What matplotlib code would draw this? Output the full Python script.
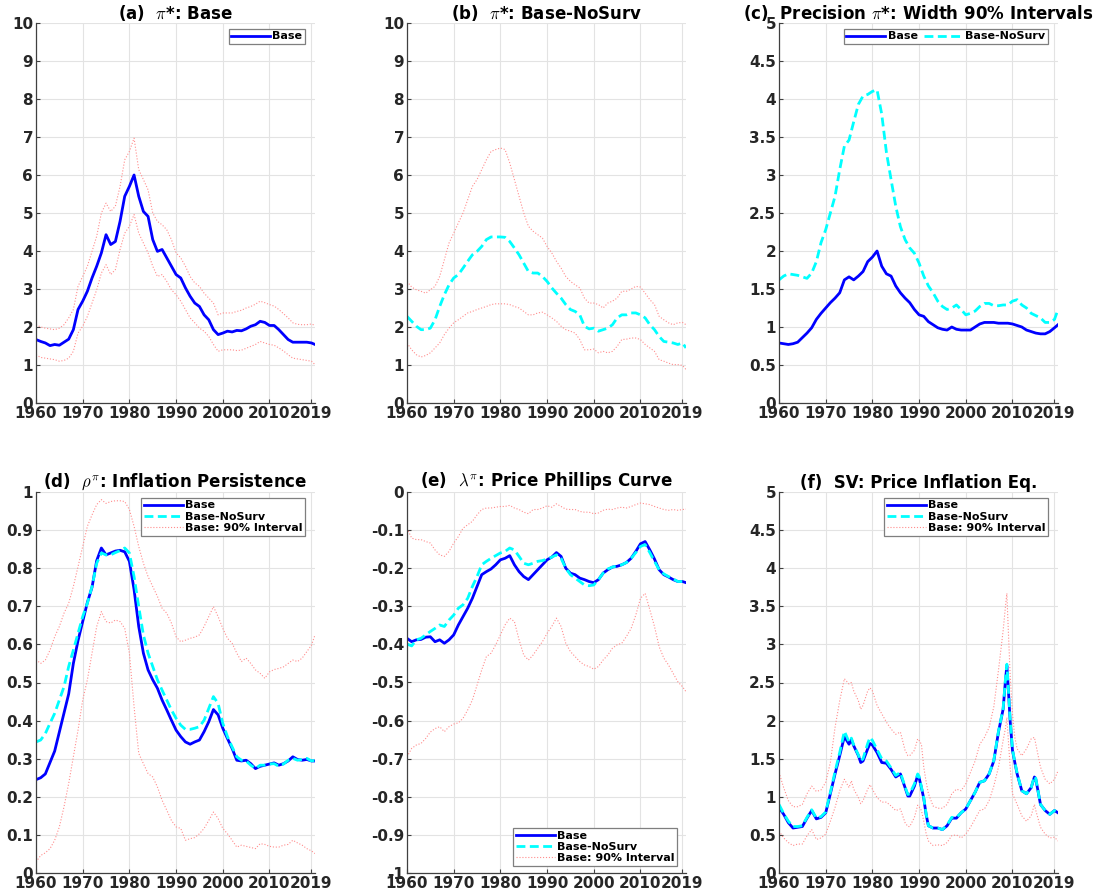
import matplotlib
matplotlib.use("Agg")
import matplotlib.pyplot as plt

plt.rcParams["font.family"] = ["DejaVu Sans"]
plt.rcParams["font.weight"] = "bold"
plt.rcParams["mathtext.fontset"] = "cm"

# ---------------------------------------------------------------- data
YEARS = list(range(1960, 2020)) + [2019.75]

A_BASE = [1.67, 1.62, 1.58, 1.51, 1.54, 1.52, 1.60, 1.68, 1.93, 2.46,
          2.68, 2.94, 3.29, 3.60, 3.95, 4.43, 4.17, 4.25, 4.78, 5.44,
          5.70, 6.00, 5.44, 5.04, 4.91, 4.30, 3.99, 4.04, 3.82, 3.60,
          3.38, 3.29, 3.03, 2.81, 2.63, 2.54, 2.32, 2.19, 1.93, 1.80,
          1.84, 1.89, 1.87, 1.91, 1.90, 1.95, 2.02, 2.06, 2.15, 2.12,
          2.04, 2.04, 1.93, 1.80, 1.67, 1.60, 1.60, 1.60, 1.60, 1.58,
          1.54]
A_UP = [2.06, 2.00, 1.97, 1.95, 1.93, 1.97, 2.06, 2.24, 2.46, 3.07,
        3.33, 3.60, 3.99, 4.39, 5.00, 5.26, 5.04, 5.18, 5.70, 6.40,
        6.62, 6.97, 6.14, 5.88, 5.61, 5.00, 4.78, 4.69, 4.56, 4.30,
        3.95, 3.82, 3.60, 3.33, 3.16, 3.07, 2.89, 2.76, 2.63, 2.32,
        2.37, 2.37, 2.37, 2.41, 2.44, 2.50, 2.54, 2.60, 2.68, 2.64,
        2.59, 2.55, 2.46, 2.35, 2.24, 2.11, 2.07, 2.06, 2.06, 2.08,
        2.04]
A_LO = [1.27, 1.20, 1.18, 1.16, 1.14, 1.10, 1.12, 1.18, 1.36, 1.84,
        2.02, 2.28, 2.63, 2.98, 3.42, 3.64, 3.38, 3.51, 4.04, 4.47,
        4.65, 4.96, 4.47, 4.21, 3.95, 3.60, 3.33, 3.38, 3.20, 2.98,
        2.85, 2.68, 2.46, 2.24, 2.11, 1.97, 1.89, 1.75, 1.54, 1.36,
        1.40, 1.40, 1.40, 1.38, 1.39, 1.44, 1.49, 1.54, 1.62, 1.58,
        1.54, 1.52, 1.45, 1.37, 1.27, 1.18, 1.16, 1.14, 1.12, 1.10,
        1.01]

B_NOSURV = [2.28, 2.15, 2.02, 1.93, 1.93, 1.97, 2.19, 2.54, 2.85, 3.11,
            3.29, 3.38, 3.55, 3.73, 3.90, 3.99, 4.12, 4.30, 4.37, 4.37,
            4.37, 4.36, 4.25, 4.08, 3.90, 3.68, 3.46, 3.42, 3.42, 3.33,
            3.20, 3.03, 2.89, 2.76, 2.59, 2.46, 2.41, 2.32, 2.02, 1.95,
            1.97, 1.89, 1.93, 1.97, 2.06, 2.24, 2.32, 2.32, 2.37, 2.37,
            2.32, 2.24, 2.06, 1.93, 1.75, 1.62, 1.60, 1.58, 1.54, 1.58,
            1.45]
B_UP = [3.20, 3.05, 2.98, 2.94, 2.89, 2.98, 3.07, 3.33, 3.77, 4.21,
        4.47, 4.74, 5.00, 5.35, 5.70, 5.88, 6.14, 6.40, 6.62, 6.67,
        6.71, 6.67, 6.32, 5.88, 5.44, 5.00, 4.65, 4.52, 4.43, 4.34,
        4.12, 3.95, 3.73, 3.55, 3.33, 3.20, 3.11, 3.03, 2.76, 2.63,
        2.63, 2.59, 2.50, 2.63, 2.68, 2.76, 2.94, 2.94, 3.00, 3.07,
        3.05, 2.89, 2.72, 2.59, 2.28, 2.19, 2.11, 2.06, 2.11, 2.12,
        2.06]
B_LO = [1.58, 1.40, 1.27, 1.21, 1.25, 1.32, 1.45, 1.58, 1.80, 1.97,
        2.11, 2.19, 2.28, 2.37, 2.41, 2.46, 2.50, 2.54, 2.59, 2.61,
        2.61, 2.61, 2.59, 2.54, 2.50, 2.41, 2.32, 2.32, 2.37, 2.39,
        2.32, 2.24, 2.15, 2.02, 1.93, 1.89, 1.84, 1.67, 1.40, 1.40,
        1.42, 1.32, 1.36, 1.32, 1.36, 1.49, 1.67, 1.68, 1.71, 1.71,
        1.67, 1.54, 1.45, 1.36, 1.14, 1.10, 1.05, 1.01, 1.01, 0.99,
        0.88]

C_BASE = [0.79, 0.78, 0.77, 0.78, 0.80, 0.86, 0.92, 0.99, 1.10, 1.18,
          1.25, 1.32, 1.38, 1.45, 1.62, 1.66, 1.62, 1.67, 1.73, 1.86,
          1.92, 2.00, 1.80, 1.70, 1.67, 1.54, 1.45, 1.38, 1.32, 1.23,
          1.16, 1.14, 1.07, 1.03, 0.99, 0.97, 0.96, 1.00, 0.97, 0.96,
          0.96, 0.96, 1.00, 1.04, 1.06, 1.06, 1.06, 1.05, 1.05, 1.05,
          1.04, 1.02, 1.00, 0.96, 0.94, 0.92, 0.91, 0.91, 0.94, 0.99,
          1.03]
C_NOSURV = [1.62, 1.67, 1.70, 1.69, 1.68, 1.66, 1.64, 1.71, 1.86, 2.11,
            2.28, 2.50, 2.72, 3.07, 3.38, 3.46, 3.70, 3.93, 4.04, 4.06,
            4.10, 4.12, 3.80, 3.30, 2.94, 2.59, 2.32, 2.15, 2.04, 1.97,
            1.84, 1.67, 1.54, 1.45, 1.34, 1.27, 1.23, 1.25, 1.29, 1.23,
            1.16, 1.18, 1.21, 1.27, 1.31, 1.31, 1.28, 1.28, 1.29, 1.29,
            1.34, 1.36, 1.29, 1.25, 1.18, 1.15, 1.12, 1.06, 1.06, 1.10,
            1.23]

D_BASE = [0.245, 0.250, 0.260, 0.290, 0.320, 0.370, 0.420, 0.470, 0.550, 0.610,
          0.660, 0.710, 0.750, 0.820, 0.853, 0.835, 0.840, 0.845, 0.847, 0.843,
          0.818, 0.744, 0.647, 0.577, 0.533, 0.507, 0.485, 0.454, 0.428, 0.401,
          0.375, 0.358, 0.344, 0.338, 0.344, 0.349, 0.371, 0.397, 0.429, 0.415,
          0.380, 0.353, 0.327, 0.296, 0.294, 0.296, 0.287, 0.274, 0.280, 0.283,
          0.286, 0.289, 0.283, 0.287, 0.294, 0.305, 0.298, 0.296, 0.298, 0.294,
          0.294]
D_NOSURV = [0.344, 0.349, 0.366, 0.393, 0.419, 0.454, 0.489, 0.542, 0.585, 0.629,
            0.673, 0.708, 0.752, 0.813, 0.840, 0.835, 0.835, 0.841, 0.846, 0.853,
            0.840, 0.778, 0.699, 0.625, 0.577, 0.542, 0.507, 0.480, 0.454, 0.428,
            0.406, 0.388, 0.377, 0.377, 0.380, 0.384, 0.401, 0.432, 0.463, 0.445,
            0.393, 0.358, 0.331, 0.305, 0.296, 0.294, 0.283, 0.274, 0.283, 0.283,
            0.286, 0.287, 0.280, 0.286, 0.296, 0.301, 0.296, 0.298, 0.301, 0.294,
            0.296]
D_UP = [0.560, 0.550, 0.559, 0.585, 0.620, 0.647, 0.682, 0.708, 0.752, 0.804,
        0.857, 0.910, 0.940, 0.967, 0.980, 0.970, 0.975, 0.977, 0.977, 0.975,
        0.954, 0.910, 0.857, 0.813, 0.778, 0.752, 0.726, 0.695, 0.682, 0.656,
        0.620, 0.607, 0.611, 0.616, 0.619, 0.625, 0.647, 0.673, 0.699, 0.673,
        0.642, 0.616, 0.603, 0.577, 0.555, 0.564, 0.550, 0.533, 0.524, 0.511,
        0.528, 0.534, 0.537, 0.541, 0.550, 0.559, 0.555, 0.564, 0.581, 0.598,
        0.625]
D_LO = [0.029, 0.046, 0.053, 0.064, 0.086, 0.121, 0.174, 0.235, 0.305, 0.375,
        0.454, 0.507, 0.577, 0.647, 0.686, 0.660, 0.656, 0.664, 0.660, 0.642,
        0.577, 0.437, 0.314, 0.287, 0.261, 0.252, 0.226, 0.191, 0.165, 0.138,
        0.121, 0.117, 0.086, 0.090, 0.093, 0.103, 0.117, 0.138, 0.160, 0.143,
        0.117, 0.103, 0.086, 0.068, 0.073, 0.070, 0.067, 0.064, 0.077, 0.075,
        0.070, 0.068, 0.068, 0.073, 0.075, 0.086, 0.079, 0.073, 0.064, 0.058,
        0.051]

E_BASE = [-0.384, -0.393, -0.388, -0.387, -0.381, -0.380, -0.393, -0.388, -0.397, -0.388,
          -0.375, -0.349, -0.327, -0.305, -0.279, -0.248, -0.217, -0.209, -0.202, -0.191,
          -0.178, -0.174, -0.167, -0.191, -0.209, -0.222, -0.230, -0.217, -0.204, -0.191,
          -0.178, -0.171, -0.159, -0.169, -0.200, -0.213, -0.217, -0.226, -0.230, -0.235,
          -0.238, -0.230, -0.213, -0.204, -0.197, -0.195, -0.191, -0.185, -0.174, -0.156,
          -0.136, -0.130, -0.152, -0.176, -0.204, -0.217, -0.223, -0.230, -0.235, -0.235,
          -0.238]
E_NOSURV = [-0.399, -0.404, -0.388, -0.384, -0.375, -0.366, -0.358, -0.349, -0.353, -0.336,
            -0.323, -0.305, -0.296, -0.279, -0.248, -0.222, -0.191, -0.182, -0.174, -0.167,
            -0.160, -0.156, -0.147, -0.152, -0.169, -0.187, -0.191, -0.187, -0.182, -0.180,
            -0.176, -0.171, -0.165, -0.174, -0.200, -0.217, -0.226, -0.235, -0.244, -0.246,
            -0.244, -0.230, -0.213, -0.202, -0.197, -0.194, -0.191, -0.185, -0.174, -0.159,
            -0.143, -0.138, -0.159, -0.182, -0.204, -0.215, -0.222, -0.228, -0.235, -0.235,
            -0.238]
E_UP = [-0.095, -0.121, -0.125, -0.125, -0.130, -0.134, -0.152, -0.165, -0.169, -0.156,
        -0.134, -0.117, -0.095, -0.086, -0.077, -0.060, -0.046, -0.042, -0.042, -0.040,
        -0.038, -0.038, -0.035, -0.042, -0.046, -0.053, -0.057, -0.046, -0.046, -0.042,
        -0.036, -0.040, -0.031, -0.038, -0.045, -0.046, -0.046, -0.051, -0.053, -0.053,
        -0.057, -0.055, -0.048, -0.045, -0.046, -0.042, -0.040, -0.042, -0.038, -0.033,
        -0.029, -0.031, -0.033, -0.038, -0.042, -0.046, -0.048, -0.046, -0.048, -0.046,
        -0.045]
E_LO = [-0.695, -0.673, -0.664, -0.660, -0.647, -0.630, -0.621, -0.616, -0.629, -0.616,
        -0.609, -0.606, -0.594, -0.572, -0.546, -0.507, -0.467, -0.432, -0.423, -0.401,
        -0.375, -0.349, -0.331, -0.340, -0.388, -0.428, -0.441, -0.428, -0.410, -0.393,
        -0.371, -0.353, -0.331, -0.353, -0.397, -0.419, -0.432, -0.445, -0.454, -0.458,
        -0.465, -0.458, -0.441, -0.428, -0.410, -0.401, -0.397, -0.379, -0.358, -0.323,
        -0.279, -0.266, -0.309, -0.353, -0.406, -0.436, -0.454, -0.476, -0.498, -0.511,
        -0.524]

F_YEARS = [1960, 1961, 1962, 1963, 1964, 1965, 1966, 1967, 1968, 1969,
           1970, 1971, 1972, 1973, 1974, 1975, 1975.5, 1976, 1977, 1977.5,
           1978, 1979, 1979.5, 1980, 1981, 1982, 1983, 1984, 1985, 1986,
           1987, 1987.6, 1988, 1989, 1989.7, 1990, 1990.5, 1991, 1991.5, 1992,
           1993, 1994, 1995, 1996, 1997, 1998, 1999, 2000, 2001, 2002,
           2003, 2004, 2005, 2006, 2007, 2008, 2008.5, 2008.8, 2009, 2009.5,
           2010, 2010.5, 2011, 2012, 2013, 2014, 2014.7, 2015, 2016, 2017,
           2018, 2019, 2019.75]
F_BASE = [0.86, 0.77, 0.66, 0.59, 0.60, 0.61, 0.72, 0.82, 0.71, 0.73,
          0.79, 1.04, 1.30, 1.54, 1.79, 1.69, 1.75, 1.67, 1.54, 1.45,
          1.47, 1.63, 1.70, 1.68, 1.58, 1.45, 1.44, 1.36, 1.26, 1.30,
          1.12, 1.01, 1.01, 1.14, 1.28, 1.25, 1.12, 0.98, 0.77, 0.62,
          0.59, 0.59, 0.57, 0.62, 0.72, 0.72, 0.79, 0.84, 0.95, 1.06,
          1.19, 1.21, 1.30, 1.47, 1.85, 2.15, 2.53, 2.72, 2.53, 2.00,
          1.61, 1.45, 1.30, 1.08, 1.04, 1.12, 1.26, 1.23, 0.90, 0.82,
          0.77, 0.82, 0.79]
F_NOSURV = [0.90, 0.78, 0.68, 0.61, 0.61, 0.62, 0.73, 0.83, 0.72, 0.74,
            0.80, 1.06, 1.33, 1.58, 1.86, 1.72, 1.77, 1.68, 1.55, 1.47,
            1.50, 1.70, 1.78, 1.74, 1.62, 1.50, 1.47, 1.38, 1.28, 1.32,
            1.13, 1.03, 1.04, 1.17, 1.30, 1.27, 1.13, 0.99, 0.78, 0.62,
            0.59, 0.59, 0.57, 0.63, 0.73, 0.73, 0.79, 0.84, 0.95, 1.06,
            1.19, 1.21, 1.30, 1.48, 1.86, 2.16, 2.55, 2.74, 2.55, 2.01,
            1.62, 1.46, 1.31, 1.08, 1.04, 1.12, 1.27, 1.24, 0.90, 0.82,
            0.77, 0.82, 0.80]
F_UP = [1.32, 1.12, 0.95, 0.87, 0.87, 0.90, 1.04, 1.14, 1.07, 1.09,
        1.19, 1.45, 1.91, 2.26, 2.55, 2.48, 2.50, 2.39, 2.26, 2.15,
        2.20, 2.39, 2.43, 2.39, 2.20, 2.09, 1.98, 1.89, 1.82, 1.85,
        1.61, 1.54, 1.54, 1.61, 1.76, 1.74, 1.69, 1.39, 1.20, 1.04,
        0.88, 0.85, 0.85, 0.90, 1.04, 1.10, 1.08, 1.17, 1.32, 1.47,
        1.69, 1.78, 1.91, 2.18, 2.66, 3.18, 3.50, 3.67, 3.35, 2.60,
        2.09, 1.78, 1.63, 1.54, 1.63, 1.76, 1.78, 1.69, 1.39, 1.23,
        1.17, 1.23, 1.34]
F_LO = [0.55, 0.46, 0.40, 0.36, 0.38, 0.38, 0.49, 0.57, 0.44, 0.46,
        0.51, 0.68, 0.86, 1.08, 1.23, 1.12, 1.21, 1.10, 0.99, 0.91,
        0.95, 1.10, 1.16, 1.10, 0.99, 0.93, 0.93, 0.88, 0.82, 0.84,
        0.66, 0.61, 0.61, 0.73, 0.89, 0.87, 0.82, 0.68, 0.52, 0.42,
        0.36, 0.37, 0.36, 0.40, 0.49, 0.50, 0.46, 0.51, 0.60, 0.71,
        0.82, 0.84, 0.95, 1.14, 1.39, 1.74, 1.90, 2.04, 1.85, 1.39,
        1.04, 0.97, 0.90, 0.75, 0.68, 0.75, 0.90, 0.82, 0.60, 0.51,
        0.46, 0.47, 0.42]

X_TICKS = [1960, 1970, 1980, 1990, 2000, 2010, 2019]

TITLES = [r"(a)  $\pi$*: Base",
          r"(b)  $\pi$*: Base-NoSurv",
          r"(c)  Precision $\pi$*: Width 90% Intervals",
          r"(d)  $\rho^{\pi}$: Inflation Persistence",
          r"(e)  $\lambda^{\pi}$: Price Phillips Curve",
          r"(f)  SV: Price Inflation Eq."]

BLUE = "#0000ff"
CYAN = "#00ffff"
RED = "#ff8c8c"
AXCOL = "#404040"


def fmt_tick(v):
    s = f"{v:.1f}"
    if s.endswith(".0"):
        s = s[:-2]
    if s == "-0":
        s = "0"
    return s


def style_axes(ax, yticks, ylim):
    ax.set_xlim(1960, 2019.75)
    ax.set_ylim(*ylim)
    ax.set_xticks(X_TICKS)
    ax.set_xticklabels([str(t) for t in X_TICKS])
    ax.set_yticks(yticks)
    ax.set_yticklabels([fmt_tick(t) for t in yticks])
    for side in ("top", "right"):
        ax.spines[side].set_visible(False)
    for side in ("left", "bottom"):
        ax.spines[side].set_color(AXCOL)
        ax.spines[side].set_linewidth(0.9)
    ax.tick_params(direction="in", length=3, width=0.8, color=AXCOL,
                   labelsize=11, labelcolor="#262626", pad=2)
    for lab in ax.get_xticklabels() + ax.get_yticklabels():
        lab.set_fontweight("bold")
    ax.grid(True, color="#e3e3e3", linewidth=0.8)
    ax.set_axisbelow(True)


def add_legend(ax, loc, anchor, ncol=1):
    leg = ax.legend(loc=loc, bbox_to_anchor=anchor, ncol=ncol,
                    prop={"weight": "bold", "size": 8},
                    frameon=True, fancybox=False, framealpha=1,
                    edgecolor="#7f7f7f", borderpad=0.25, labelspacing=0.12,
                    handlelength=3.5, handletextpad=0.2, borderaxespad=0,
                    columnspacing=0.6)
    leg.get_frame().set_linewidth(0.9)


fig = plt.figure(figsize=(11.06, 8.96), dpi=100)
W, H = 1106, 896
lefts = [36, 407, 779]
boxes = []
for row, (top, bot) in enumerate([(23, 403), (492, 873)]):
    for lx in lefts:
        boxes.append([lx / W, 1 - bot / H, 279 / W, (bot - top) / H])
axes = [fig.add_axes(b) for b in boxes]

lw_main = 2.0
dash = (3.2, 1.6)
UR = (0.965, 0.985)

# (a)
ax = axes[0]
ax.plot(YEARS, A_UP, color=RED, lw=0.8, ls=":")
ax.plot(YEARS, A_LO, color=RED, lw=0.8, ls=":")
ax.plot(YEARS, A_BASE, color=BLUE, lw=lw_main, label="Base")
style_axes(ax, range(0, 11), (0, 10))
add_legend(ax, "upper right", UR)

# (b)
ax = axes[1]
ax.plot(YEARS, B_UP, color=RED, lw=0.8, ls=":")
ax.plot(YEARS, B_LO, color=RED, lw=0.8, ls=":")
ax.plot(YEARS, B_NOSURV, color=CYAN, lw=lw_main, dashes=dash)
style_axes(ax, range(0, 11), (0, 10))

# (c)
ax = axes[2]
ax.plot(YEARS, C_BASE, color=BLUE, lw=lw_main, label="Base")
ax.plot(YEARS, C_NOSURV, color=CYAN, lw=lw_main, dashes=dash, label="Base-NoSurv")
style_axes(ax, [i * 0.5 for i in range(11)], (0, 5))
add_legend(ax, "upper right", UR, ncol=2)

# (d)
ax = axes[3]
ax.plot(YEARS, D_BASE, color=BLUE, lw=lw_main, label="Base")
ax.plot(YEARS, D_NOSURV, color=CYAN, lw=lw_main, dashes=dash, label="Base-NoSurv")
ax.plot(YEARS, D_UP, color=RED, lw=0.8, ls=":", label="Base: 90% Interval")
ax.plot(YEARS, D_LO, color=RED, lw=0.8, ls=":")
style_axes(ax, [i * 0.1 for i in range(11)], (0, 1))
add_legend(ax, "upper right", UR)

# (e)
ax = axes[4]
ax.plot(YEARS, E_BASE, color=BLUE, lw=lw_main, label="Base")
ax.plot(YEARS, E_NOSURV, color=CYAN, lw=lw_main, dashes=dash, label="Base-NoSurv")
ax.plot(YEARS, E_UP, color=RED, lw=0.8, ls=":", label="Base: 90% Interval")
ax.plot(YEARS, E_LO, color=RED, lw=0.8, ls=":")
style_axes(ax, [-1 + i * 0.1 for i in range(11)], (-1, 0))
add_legend(ax, "lower right", (0.968, 0.018))

# (f)
ax = axes[5]
ax.plot(F_YEARS, F_BASE, color=BLUE, lw=lw_main, label="Base")
ax.plot(F_YEARS, F_NOSURV, color=CYAN, lw=lw_main, dashes=dash, label="Base-NoSurv")
ax.plot(F_YEARS, F_UP, color=RED, lw=0.8, ls=":", label="Base: 90% Interval")
ax.plot(F_YEARS, F_LO, color=RED, lw=0.8, ls=":")
style_axes(ax, [i * 0.5 for i in range(11)], (0, 5))
add_legend(ax, "upper right", UR)

for ax, t in zip(axes, TITLES):
    ax.set_title(t, fontsize=12, fontweight="bold", pad=3)

fig.savefig("out.png", dpi=100)
